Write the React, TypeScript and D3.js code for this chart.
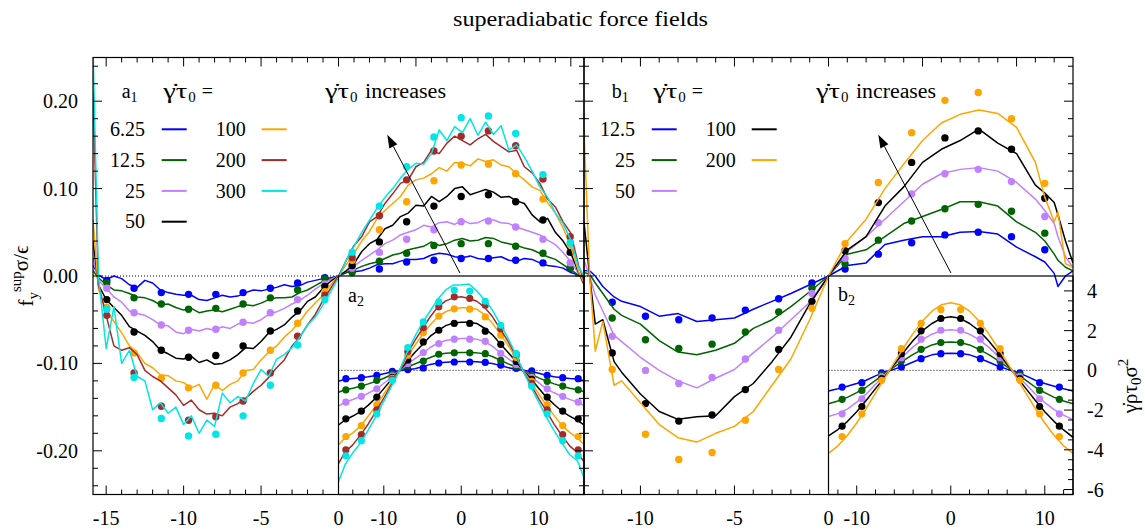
import React from 'react';
import * as d3 from 'd3';

// ---------------- data ----------------
const TITLE = 'superadiabatic force fields';
const RATES_A = ['6.25', '12.5', '25', '50', '100', '200', '300'];
const RATES_B = ['12.5', '25', '50', '100', '200'];

// panel a1 : simulation lines, sampled at the walls and every 0.5 from -15 to 15
const X_A1 = [-15.85, -15.5, ...d3.range(-30, 31).map(k => k / 2), 15.5, 15.85];
const A1_L_6_25 = [0.012, 0.001,
  -0.004, 0.000, -0.003, -0.010, -0.013, -0.005, -0.008, -0.016, -0.019, -0.021, -0.022, -0.022, -0.027, -0.028, -0.025, -0.022,
  -0.024, -0.023, -0.019, -0.016, -0.017, -0.015, -0.013, -0.010, -0.012, -0.011, -0.007, -0.005, -0.003, -0.002, 0.000,
  0.004, 0.005, 0.006, 0.009, 0.013, 0.014, 0.014, 0.017, 0.019, 0.019, 0.020, 0.024, 0.026, 0.025, 0.022, 0.021, 0.023,
  0.020, 0.019, 0.021, 0.022, 0.018, 0.017, 0.020, 0.019, 0.015, 0.012, 0.011, 0.009, 0.004,
  0.001, 0.000];
const A1_L_12_5 = [0.006, -0.002,
  -0.010, -0.016, -0.017, -0.020, -0.024, -0.025, -0.028, -0.033, -0.032, -0.036, -0.039, -0.037, -0.042, -0.040, -0.039, -0.041,
  -0.038, -0.035, -0.033, -0.034, -0.031, -0.027, -0.025, -0.025, -0.024, -0.019, -0.016, -0.011, -0.006, -0.003, 0.000,
  0.004, 0.007, 0.011, 0.014, 0.016, 0.020, 0.024, 0.026, 0.030, 0.032, 0.034, 0.039, 0.035, 0.037, 0.041, 0.043, 0.040,
  0.041, 0.044, 0.043, 0.039, 0.037, 0.035, 0.032, 0.030, 0.026, 0.022, 0.019, 0.013, 0.007,
  0.001, -0.002];
const A1_L_25 = [0.020, -0.005,
  -0.014, -0.024, -0.030, -0.040, -0.043, -0.045, -0.050, -0.056, -0.057, -0.064, -0.066, -0.061, -0.063, -0.060, -0.062, -0.058,
  -0.060, -0.055, -0.053, -0.054, -0.050, -0.044, -0.041, -0.037, -0.032, -0.028, -0.022, -0.015, -0.009, -0.004, 0.000,
  0.006, 0.011, 0.018, 0.024, 0.030, 0.037, 0.041, 0.047, 0.050, 0.053, 0.058, 0.056, 0.061, 0.062, 0.059, 0.064, 0.060,
  0.061, 0.065, 0.064, 0.061, 0.060, 0.056, 0.053, 0.050, 0.047, 0.041, 0.036, 0.027, 0.016,
  0.003, -0.004];
const A1_L_50 = [0.040, -0.010,
  -0.027, -0.036, -0.045, -0.058, -0.063, -0.068, -0.075, -0.085, -0.089, -0.094, -0.095, -0.092, -0.099, -0.096, -0.101, -0.100,
  -0.096, -0.090, -0.082, -0.083, -0.075, -0.065, -0.061, -0.056, -0.047, -0.040, -0.029, -0.024, -0.014, -0.006, 0.000,
  0.006, 0.014, 0.028, 0.037, 0.042, 0.054, 0.058, 0.068, 0.072, 0.081, 0.080, 0.091, 0.085, 0.091, 0.100, 0.102, 0.093,
  0.096, 0.099, 0.096, 0.090, 0.091, 0.086, 0.083, 0.070, 0.062, 0.066, 0.050, 0.040, 0.026,
  0.004, -0.010];
const A1_L_100 = [0.065, -0.015,
  -0.040, -0.052, -0.065, -0.080, -0.088, -0.100, -0.105, -0.113, -0.114, -0.120, -0.122, -0.128, -0.124, -0.141, -0.124, -0.131,
  -0.124, -0.120, -0.108, -0.107, -0.096, -0.087, -0.080, -0.070, -0.062, -0.052, -0.040, -0.031, -0.022, -0.010, 0.000,
  0.013, 0.026, 0.040, 0.051, 0.066, 0.075, 0.083, 0.091, 0.104, 0.110, 0.112, 0.117, 0.124, 0.120, 0.130, 0.129, 0.126,
  0.134, 0.131, 0.133, 0.127, 0.125, 0.117, 0.110, 0.102, 0.098, 0.084, 0.072, 0.055, 0.034,
  0.005, -0.008];
const A1_L_200 = [0.210, -0.010,
  -0.045, -0.080, -0.085, -0.082, -0.090, -0.108, -0.115, -0.120, -0.128, -0.136, -0.148, -0.142, -0.153, -0.158, -0.157, -0.160,
  -0.150, -0.146, -0.140, -0.132, -0.125, -0.116, -0.105, -0.096, -0.080, -0.070, -0.056, -0.044, -0.028, -0.014, 0.000,
  0.018, 0.035, 0.045, 0.062, 0.068, 0.083, 0.094, 0.106, 0.110, 0.125, 0.130, 0.144, 0.140, 0.152, 0.160, 0.155, 0.150,
  0.157, 0.162, 0.154, 0.148, 0.142, 0.144, 0.125, 0.118, 0.106, 0.088, 0.079, 0.062, 0.049,
  0.012, -0.005];
const A1_L_300 = [0.260, 0.000,
  -0.083, -0.035, -0.100, -0.085, -0.115, -0.120, -0.153, -0.145, -0.157, -0.150, -0.170, -0.160, -0.180, -0.165, -0.172, -0.134,
  -0.145, -0.138, -0.143, -0.123, -0.107, -0.115, -0.095, -0.090, -0.082, -0.070, -0.056, -0.047, -0.033, -0.018, -0.002,
  0.018, 0.034, 0.050, 0.064, 0.078, 0.090, 0.100, 0.112, 0.122, 0.129, 0.128, 0.140, 0.167, 0.155, 0.171, 0.164, 0.180,
  0.161, 0.176, 0.162, 0.172, 0.144, 0.150, 0.136, 0.120, 0.102, 0.090, 0.072, 0.060, 0.041,
  0.010, 0.000];

// panel a1 : theory points
const X_A1_DOTS = [-14.96, -13.2, -11.44, -9.68, -7.92, -6.16, -4.4, -2.64, -0.88, 0.88, 2.64, 4.4, 6.16, 7.92, 9.68, 11.44, 13.2, 14.96];
const A1_D_6_25 = [-0.005, -0.014, -0.019, -0.021, -0.021, -0.019, -0.014, -0.008, -0.002, 0.006, 0.008, 0.016, 0.018, 0.020, 0.020, 0.018, 0.015, 0.009];
const A1_D_12_5 = [-0.008, -0.025, -0.032, -0.038, -0.037, -0.032, -0.025, -0.016, -0.003, 0.004, 0.017, 0.026, 0.035, 0.037, 0.037, 0.034, 0.026, 0.010];
const A1_D_25 = [-0.014, -0.042, -0.056, -0.062, -0.061, -0.053, -0.042, -0.027, -0.009, 0.009, 0.027, 0.042, 0.053, 0.062, 0.063, 0.056, 0.042, 0.015];
const A1_D_50 = [-0.027, -0.064, -0.085, -0.093, -0.091, -0.080, -0.063, -0.040, -0.012, 0.012, 0.039, 0.062, 0.080, 0.091, 0.093, 0.085, 0.064, 0.027];
const A1_D_100 = [-0.036, -0.088, -0.117, -0.128, -0.125, -0.111, -0.085, -0.054, -0.018, 0.018, 0.053, 0.085, 0.109, 0.127, 0.128, 0.117, 0.088, 0.036];
const A1_D_200 = [-0.045, -0.111, -0.149, -0.165, -0.161, -0.143, -0.111, -0.069, -0.022, 0.021, 0.069, 0.110, 0.143, 0.160, 0.166, 0.149, 0.111, 0.045];
const A1_D_300 = [-0.038, -0.116, -0.163, -0.183, -0.181, -0.160, -0.125, -0.079, -0.027, 0.027, 0.080, 0.125, 0.159, 0.181, 0.183, 0.163, 0.116, 0.038];

// panel a2 (inset) : lines
const X_A2 = [-15.85, -15, -14, -13, -12, -11, -10, -9, -8, -7, -6, -5, -4, -3, -2, -1, 0,
  1, 2, 3, 4, 5, 6, 7, 8, 9, 10, 11, 12, 13, 14, 15, 15.85];
const A2_L_6_25 = [-0.55, -0.45, -0.41, -0.37, -0.32, -0.26, -0.17, -0.08, -0.02, 0.03, 0.08, 0.18, 0.30, 0.37, 0.41, 0.43, 0.44,
  0.44, 0.43, 0.40, 0.34, 0.25, 0.14, 0.06, 0.0, -0.06, -0.15, -0.25, -0.32, -0.37, -0.41, -0.44, -0.52];
const A2_L_12_5 = [-1.10, -0.98, -0.90, -0.80, -0.68, -0.55, -0.40, -0.22, -0.02, 0.17, 0.32, 0.48, 0.65, 0.80, 0.86, 0.89, 0.90,
  0.90, 0.88, 0.83, 0.70, 0.52, 0.34, 0.18, 0.0, -0.20, -0.38, -0.54, -0.68, -0.80, -0.90, -0.98, -1.08];
const A2_L_25 = [-1.80, -1.60, -1.47, -1.32, -1.15, -0.95, -0.65, -0.35, -0.03, 0.30, 0.58, 0.85, 1.15, 1.38, 1.50, 1.57, 1.60,
  1.60, 1.56, 1.46, 1.22, 0.90, 0.60, 0.32, 0.0, -0.32, -0.62, -0.93, -1.13, -1.31, -1.46, -1.60, -1.78];
const A2_L_50 = [-2.75, -2.50, -2.30, -2.08, -1.75, -1.38, -0.92, -0.45, -0.03, 0.45, 0.90, 1.30, 1.72, 2.00, 2.25, 2.38, 2.42,
  2.42, 2.36, 2.12, 1.80, 1.35, 0.92, 0.48, 0.0, -0.42, -0.90, -1.35, -1.72, -2.06, -2.30, -2.52, -2.75];
const A2_L_100 = [-3.75, -3.40, -3.15, -2.80, -2.30, -1.78, -1.20, -0.60, -0.03, 0.65, 1.25, 1.80, 2.30, 2.70, 2.95, 3.10, 3.15,
  3.15, 3.08, 2.80, 2.38, 1.85, 1.28, 0.68, 0.0, -0.58, -1.18, -1.76, -2.28, -2.78, -3.12, -3.40, -3.72];
const A2_L_200 = [-4.70, -4.10, -3.75, -3.25, -2.70, -2.05, -1.40, -0.70, -0.03, 0.80, 1.50, 2.10, 2.70, 3.20, 3.50, 3.65, 3.70,
  3.62, 3.48, 3.18, 2.72, 2.10, 1.48, 0.78, -0.05, -0.72, -1.42, -2.05, -2.72, -3.28, -3.80, -4.15, -4.60];
const A2_L_300 = [-5.60, -4.75, -4.15, -3.65, -3.00, -2.30, -1.55, -0.80, -0.03, 0.90, 1.70, 2.40, 3.00, 3.60, 4.05, 4.30, 4.30,
  4.35, 4.00, 3.55, 3.05, 2.35, 1.65, 0.85, -0.05, -0.85, -1.60, -2.35, -3.05, -3.65, -4.25, -4.55, -5.40];

// panel a2 : theory points
const X_A2_DOTS = [-14.9, -12.9, -10.9, -8.9, -6.9, -4.9, -2.9, -0.9, 1.1, 3.1, 5.1, 7.1, 9.1, 11.1, 13.1, 15.1];
const A2_D_6_25 = [-0.42, -0.37, -0.25, -0.05, 0.04, 0.12, 0.37, 0.42, 0.42, 0.40, 0.26, 0.10, -0.02, -0.25, -0.37, -0.42];
const A2_D_12_5 = [-0.98, -0.79, -0.50, -0.18, 0.25, 0.47, 0.81, 0.88, 0.88, 0.84, 0.50, 0.20, -0.25, -0.55, -0.79, -0.98];
const A2_D_25 = [-1.60, -1.31, -0.93, -0.28, 0.35, 0.90, 1.35, 1.57, 1.57, 1.46, 0.85, 0.30, -0.35, -0.93, -1.31, -1.60];
const A2_D_50 = [-2.44, -2.05, -1.35, -0.35, 0.52, 1.43, 2.02, 2.36, 2.36, 1.97, 1.31, 0.45, -0.45, -1.35, -2.05, -2.44];
const A2_D_100 = [-3.33, -2.78, -1.73, -0.40, 0.76, 1.89, 2.73, 3.10, 3.08, 2.69, 1.77, 0.65, -0.55, -1.73, -2.78, -3.33];
const A2_D_200 = [-4.00, -3.23, -1.99, -0.45, 0.95, 2.15, 3.20, 3.70, 3.62, 3.28, 2.10, 0.80, -0.65, -1.99, -3.23, -4.00];
const A2_D_300 = [-4.30, -3.54, -2.19, -0.50, 1.15, 2.44, 3.45, 4.04, 3.99, 3.48, 2.27, 0.84, -0.80, -2.19, -3.54, -4.30];

// panel b1 : simulation lines
const X_B1 = [-13, -12.7, -12.4, -12, -11.4, -11, -10, -9, -8, -7, -6, -5, -4, -3, -2, -1, 0,
  1, 2, 3, 4, 5, 6, 7, 8, 9, 10, 11, 11.5, 12, 12.2, 12.6, 13];
const B1_L_12_5 = [0.006, 0.006, 0.0, -0.012, -0.024, -0.029, -0.035, -0.046, -0.043, -0.052, -0.050, -0.048, -0.038, -0.029, -0.020, -0.010, 0.0,
  0.012, 0.015, 0.036, 0.041, 0.045, 0.045, 0.050, 0.051, 0.048, 0.033, 0.022, 0.016, 0.003, -0.012, 0.0, 0.006];
const B1_L_25 = [0.004, 0.002, -0.008, -0.020, -0.038, -0.045, -0.055, -0.074, -0.087, -0.090, -0.085, -0.077, -0.060, -0.050, -0.035, -0.018, 0.0,
  0.025, 0.030, 0.045, 0.060, 0.068, 0.076, 0.085, 0.085, 0.080, 0.062, 0.050, 0.040, 0.025, 0.018, 0.010, 0.006];
const B1_L_50 = [0.018, 0.0, -0.022, -0.040, -0.068, -0.075, -0.093, -0.108, -0.120, -0.128, -0.117, -0.107, -0.088, -0.070, -0.050, -0.030, 0.0,
  0.028, 0.045, 0.065, 0.085, 0.105, 0.117, 0.122, 0.124, 0.120, 0.107, 0.088, 0.075, 0.060, 0.045, 0.022, 0.010];
const B1_L_100 = [0.062, 0.0, -0.055, -0.050, -0.098, -0.110, -0.135, -0.155, -0.164, -0.161, -0.160, -0.138, -0.123, -0.098, -0.070, -0.032, 0.0,
  0.030, 0.045, 0.080, 0.102, 0.130, 0.145, 0.155, 0.168, 0.152, 0.140, 0.104, 0.095, 0.084, 0.070, 0.040, 0.015];
const B1_L_200 = [0.167, 0.0, -0.086, -0.052, -0.125, -0.120, -0.145, -0.170, -0.185, -0.190, -0.180, -0.172, -0.155, -0.125, -0.095, -0.050, 0.0,
  0.040, 0.065, 0.100, 0.128, 0.155, 0.175, 0.185, 0.190, 0.186, 0.170, 0.130, 0.090, 0.062, 0.073, 0.014, 0.010];

// panel b1 : theory points
const X_B1_DOTS = [-11.5, -9.73, -7.96, -6.19, -4.42, -2.65, -0.88, 0.88, 2.65, 4.42, 6.19, 7.96, 9.73, 11.5];
const B1_D_12_5 = [-0.030, -0.046, -0.050, -0.048, -0.039, -0.026, -0.008, 0.008, 0.025, 0.038, 0.047, 0.050, 0.045, 0.030];
const B1_D_25 = [-0.048, -0.073, -0.083, -0.078, -0.064, -0.041, -0.014, 0.014, 0.041, 0.063, 0.077, 0.082, 0.074, 0.049];
const B1_D_50 = [-0.069, -0.108, -0.123, -0.116, -0.095, -0.062, -0.020, 0.020, 0.061, 0.094, 0.117, 0.122, 0.108, 0.068];
const B1_D_100 = [-0.088, -0.146, -0.166, -0.159, -0.130, -0.084, -0.029, 0.029, 0.084, 0.130, 0.158, 0.166, 0.145, 0.089];
const B1_D_200 = [-0.107, -0.181, -0.210, -0.202, -0.165, -0.107, -0.037, 0.037, 0.107, 0.164, 0.201, 0.210, 0.180, 0.106];

// panel b2 (inset) : lines
const X_B2 = [-13, -12, -11, -10, -9, -8, -7, -6, -5, -4, -3, -2, -1, 0, 1, 2, 3, 4, 5, 6, 7, 8, 9, 10, 11, 12, 13];
const B2_L_12_5 = [-1.04, -0.93, -0.80, -0.66, -0.50, -0.28, -0.08, 0.06, 0.22, 0.42, 0.62, 0.78, 0.85, 0.86, 0.85, 0.78, 0.62, 0.42, 0.22, 0.06, -0.08, -0.28, -0.50, -0.66, -0.80, -0.93, -1.04];
const B2_L_25 = [-1.68, -1.54, -1.36, -1.12, -0.85, -0.50, -0.15, 0.18, 0.50, 0.80, 1.06, 1.28, 1.40, 1.43, 1.40, 1.28, 1.06, 0.80, 0.50, 0.18, -0.15, -0.50, -0.85, -1.12, -1.36, -1.54, -1.68];
const B2_L_50 = [-2.32, -2.18, -1.95, -1.60, -1.20, -0.70, -0.22, 0.26, 0.74, 1.18, 1.55, 1.82, 2.00, 2.04, 2.00, 1.82, 1.55, 1.18, 0.74, 0.26, -0.22, -0.70, -1.20, -1.62, -1.98, -2.25, -2.49];
const B2_L_100 = [-3.30, -2.98, -2.58, -2.08, -1.52, -0.92, -0.32, 0.30, 0.92, 1.50, 2.00, 2.36, 2.62, 2.70, 2.62, 2.36, 2.00, 1.50, 0.92, 0.30, -0.32, -0.92, -1.52, -2.08, -2.58, -3.00, -3.37];
const B2_L_200 = [-4.18, -3.80, -3.28, -2.65, -1.92, -1.15, -0.38, 0.40, 1.15, 1.86, 2.48, 2.98, 3.30, 3.40, 3.30, 2.98, 2.48, 1.86, 1.15, 0.40, -0.38, -1.15, -1.92, -2.65, -3.28, -3.80, -4.18];

// panel b2 : theory points
const X_B2_DOTS = [-11.55, -9.45, -7.35, -5.25, -3.15, -1.05, 1.05, 3.15, 5.25, 7.35, 9.45, 11.55];
const B2_D_12_5 = [-0.84, -0.62, -0.13, 0.17, 0.59, 0.84, 0.84, 0.59, 0.17, -0.13, -0.62, -0.84];
const B2_D_25 = [-1.46, -1.01, -0.22, 0.47, 1.06, 1.40, 1.40, 1.06, 0.47, -0.22, -1.01, -1.46];
const B2_D_50 = [-2.19, -1.43, -0.32, 0.64, 1.57, 2.02, 2.02, 1.57, 0.64, -0.32, -1.43, -2.19];
const B2_D_100 = [-2.81, -1.82, -0.42, 0.84, 1.99, 2.61, 2.61, 1.99, 0.84, -0.42, -1.82, -2.81];
const B2_D_200 = [-3.33, -2.19, -0.50, 1.09, 2.36, 3.06, 3.06, 2.36, 1.09, -0.50, -2.19, -3.33];

// tick labels
const A1_X_LABELS = [-15, -10, -5, 0];
const A2_X_LABELS = [-10, 0, 10];
const B1_X_LABELS = [-10, -5, 0];
const B2_X_LABELS = [-10, 0, 10];
const Y_MAIN_LABELS = [0.2, 0.1, 0, -0.1, -0.2];
const Y_INSET_LABELS = [4, 2, 0, -2, -4, -6];

// annotation arrow (data coordinates: tail -> head)
const ARROW_A = [[7.84, 0.0035], [3.15, 0.1615]];
const ARROW_B = [[6.51, 0.0035], [2.65, 0.1615]];

// ---------------- styling ----------------
const COLORS_A = ['#0000ff', '#006400', '#c080ff', '#000000', '#ffa500', '#a52a2a', '#00e5e5'];
const COLORS_B = ['#0000ff', '#006400', '#c080ff', '#000000', '#ffa500'];
const FONT = "'Liberation Serif', 'DejaVu Serif', 'Times New Roman', serif";

const A1_LINES = [A1_L_6_25, A1_L_12_5, A1_L_25, A1_L_50, A1_L_100, A1_L_200, A1_L_300];
const A1_DOTS = [A1_D_6_25, A1_D_12_5, A1_D_25, A1_D_50, A1_D_100, A1_D_200, A1_D_300];
const A2_LINES = [A2_L_6_25, A2_L_12_5, A2_L_25, A2_L_50, A2_L_100, A2_L_200, A2_L_300];
const A2_DOTS = [A2_D_6_25, A2_D_12_5, A2_D_25, A2_D_50, A2_D_100, A2_D_200, A2_D_300];
const B1_LINES = [B1_L_12_5, B1_L_25, B1_L_50, B1_L_100, B1_L_200];
const B1_DOTS = [B1_D_12_5, B1_D_25, B1_D_50, B1_D_100, B1_D_200];
const B2_LINES = [B2_L_12_5, B2_L_25, B2_L_50, B2_L_100, B2_L_200];
const B2_DOTS = [B2_D_12_5, B2_D_25, B2_D_50, B2_D_100, B2_D_200];

type Scale = d3.ScaleLinear<number, number>;

function Series({ xs, ys, xv, lines, dxv, dots, colors, clip, r = 3.7 }:
  { xs: Scale; ys: Scale; xv: number[]; lines: number[][]; dxv: number[]; dots: number[][]; colors: string[]; clip: string; r?: number }) {
  const gen = d3.line<[number, number]>().x(d => xs(d[0])).y(d => ys(d[1]));
  return (
    <g clipPath={`url(#${clip})`}>
      {lines.map((vals, i) => (
        <g key={i}>
          <path d={gen(xv.map((x, k) => [x, vals[k]] as [number, number])) || ''} fill="none" stroke={colors[i]} strokeWidth={1.5} strokeLinejoin="round" />
          {dots[i].map((v, k) => (
            <circle key={k} cx={xs(dxv[k])} cy={ys(v)} r={r} fill={colors[i]} />
          ))}
        </g>
      ))}
    </g>
  );
}

function HTicks({ scale, y, values, dir, isMajor }: { scale: Scale; y: number; values: number[]; dir: number; isMajor: (v: number) => boolean }) {
  return (
    <g stroke="#000" strokeWidth={1}>
      {values.map((v, i) => {
        const p = scale(v);
        const len = isMajor(v) ? 9 : 5;
        return <line key={i} x1={p} x2={p} y1={y} y2={y + dir * len} />;
      })}
    </g>
  );
}

function VTicks({ scale, x, values, dir, isMajor }: { scale: Scale; x: number; values: number[]; dir: number; isMajor: (v: number) => boolean }) {
  return (
    <g stroke="#000" strokeWidth={1}>
      {values.map((v, i) => {
        const p = scale(v);
        const len = isMajor(v) ? 9 : 5;
        return <line key={i} x1={x} x2={x + dir * len} y1={p} y2={p} />;
      })}
    </g>
  );
}

function Arrow({ x1, y1, x2, y2 }: { x1: number; y1: number; x2: number; y2: number }) {
  const ang = Math.atan2(y2 - y1, x2 - x1);
  const L = 13, Wd = 4.5;
  const bx = x2 - L * Math.cos(ang), by = y2 - L * Math.sin(ang);
  const px = -Math.sin(ang) * Wd, py = Math.cos(ang) * Wd;
  return (
    <g>
      <line x1={x1} y1={y1} x2={bx} y2={by} stroke="#000" strokeWidth={1} />
      <path d={`M${x2},${y2}L${bx + px},${by + py}L${bx - px},${by - py}Z`} fill="#000" />
    </g>
  );
}

const GDOT = 'γ\u0307';

function GammaTau({ x, y, after, afterDx, afterLen }: { x: number; y: number; after: string; afterDx: number; afterLen?: number }) {
  return (
    <text x={x} y={y} fontSize={20}>
      <tspan fontSize={22} textLength={24} lengthAdjust="spacingAndGlyphs">{GDOT + 'τ'}</tspan>
      <tspan fontSize={15} dy={4} x={x + 25}>0</tspan>
      <tspan dy={-4} x={x + afterDx} textLength={afterLen} lengthAdjust="spacingAndGlyphs">{after}</tspan>
    </text>
  );
}

export default function App() {
  const top = 57.5, bot = 494.5, mid = 276;
  const xA1 = d3.scaleLinear().domain([-15.85, 15.85]).range([93, 584]);
  const xB1 = d3.scaleLinear().domain([-13, 13]).range([584, 1073]);
  const yM = d3.scaleLinear().domain([-0.25, 0.25]).range([bot, top]);
  const xA2 = d3.scaleLinear().domain([-15.85, 15.85]).range([338.5, 584]);
  const xB2 = d3.scaleLinear().domain([-13, 13]).range([828.5, 1073]);
  const yI = d3.scaleLinear().domain([-6.25, 4.75]).range([bot, mid]);

  const yTicks = d3.range(-24, 25, 2).map(v => v / 100);
  const yMajor = (v: number) => Math.abs(v * 10 - Math.round(v * 10)) < 1e-6;
  const int5 = (v: number) => Math.abs(v % 5) < 1e-6;
  const int10 = (v: number) => Math.abs(v % 10) < 1e-6;
  const insetY = d3.range(-12, 10, 1).map(v => v / 2);
  const insetYMajor = (v: number) => Math.abs(v % 2) < 1e-6;

  const legendA = RATES_A.map((r, i) => ({ r, c: COLORS_A[i], col: i < 4 ? 0 : 1, row: i < 4 ? i : i - 4 }));
  const legendB = RATES_B.map((r, i) => ({ r, c: COLORS_B[i], col: i < 3 ? 0 : 1, row: i < 3 ? i : i - 3 }));

  return (
    <svg width={1145} height={529} style={{ position: 'absolute', left: 0, top: 0, background: '#fff', fontFamily: FONT }}>
      <defs>
        <clipPath id="cA1"><rect x={93} y={top} width={491} height={bot - top} /></clipPath>
        <clipPath id="cB1"><rect x={584} y={top} width={489} height={bot - top} /></clipPath>
        <clipPath id="cA2"><rect x={338.5} y={mid} width={245.5} height={bot - mid} /></clipPath>
        <clipPath id="cB2"><rect x={828.5} y={mid} width={244.5} height={bot - mid} /></clipPath>
      </defs>
      <rect x={0} y={0} width={1145} height={529} fill="#fff" />

      {/* title */}
      <text x={580.5} y={26} fontSize={22} textAnchor="middle" textLength={255} lengthAdjust="spacingAndGlyphs">{TITLE}</text>

      {/* insets */}
      <rect x={338.5} y={mid} width={245.5} height={bot - mid} fill="#fff" />
      <rect x={828.5} y={mid} width={244.5} height={bot - mid} fill="#fff" />
      <line x1={338.5} x2={584} y1={yI(0)} y2={yI(0)} stroke="#000" strokeWidth={1} strokeDasharray="1,2" />
      <line x1={828.5} x2={1073} y1={yI(0)} y2={yI(0)} stroke="#000" strokeWidth={1} strokeDasharray="1,2" />
      <Series xs={xA2} ys={yI} xv={X_A2} lines={A2_LINES} dxv={X_A2_DOTS} dots={A2_DOTS} colors={COLORS_A} clip="cA2" r={3.6} />
      <Series xs={xB2} ys={yI} xv={X_B2} lines={B2_LINES} dxv={X_B2_DOTS} dots={B2_DOTS} colors={COLORS_B} clip="cB2" r={3.6} />

      {/* main zero lines */}
      <line x1={93} x2={338.5} y1={yM(0)} y2={yM(0)} stroke="#000" strokeWidth={1} strokeDasharray="1,2" />
      <line x1={584} x2={828.5} y1={yM(0)} y2={yM(0)} stroke="#000" strokeWidth={1} strokeDasharray="1,2" />

      {/* main series */}
      <Series xs={xA1} ys={yM} xv={X_A1} lines={A1_LINES} dxv={X_A1_DOTS} dots={A1_DOTS} colors={COLORS_A} clip="cA1" />
      <Series xs={xB1} ys={yM} xv={X_B1} lines={B1_LINES} dxv={X_B1_DOTS} dots={B1_DOTS} colors={COLORS_B} clip="cB1" />

      {/* frames */}
      <g fill="none" stroke="#000" strokeWidth={1.2}>
        <rect x={93} y={top} width={491} height={bot - top} />
        <rect x={584} y={top} width={489} height={bot - top} />
        <rect x={338.5} y={mid} width={245.5} height={bot - mid} />
        <rect x={828.5} y={mid} width={244.5} height={bot - mid} />
      </g>

      {/* ticks */}
      <HTicks scale={xA1} y={top} values={d3.range(-15, 15.5, 1)} dir={1} isMajor={int5} />
      <HTicks scale={xA1} y={bot} values={d3.range(-15, 0.5, 1)} dir={-1} isMajor={int5} />
      <VTicks scale={yM} x={93} values={yTicks} dir={1} isMajor={yMajor} />
      <VTicks scale={yM} x={584} values={yTicks} dir={-1} isMajor={yMajor} />
      <HTicks scale={xB1} y={top} values={d3.range(-12, 12.5, 1)} dir={1} isMajor={int5} />
      <HTicks scale={xB1} y={bot} values={d3.range(-12, 0.5, 1)} dir={-1} isMajor={int5} />
      <VTicks scale={yM} x={584} values={yTicks} dir={1} isMajor={yMajor} />
      <VTicks scale={yM} x={1073} values={yTicks.filter(v => v > 0.001)} dir={-1} isMajor={yMajor} />
      <HTicks scale={xA2} y={bot} values={d3.range(-14, 14.5, 2)} dir={-1} isMajor={int10} />
      <HTicks scale={xB2} y={bot} values={d3.range(-12, 12.5, 2)} dir={-1} isMajor={int10} />
      <VTicks scale={yI} x={1073} values={insetY} dir={-1} isMajor={insetYMajor} />

      {/* tick labels */}
      <g fontSize={20} textAnchor="middle">
        {A1_X_LABELS.map(v => <text key={'a1' + v} x={xA1(v)} y={525}>{String(v)}</text>)}
        {A2_X_LABELS.map(v => <text key={'a2' + v} x={xA2(v)} y={525}>{String(v)}</text>)}
        {B1_X_LABELS.map(v => <text key={'b1' + v} x={xB1(v)} y={525}>{String(v)}</text>)}
        {B2_X_LABELS.map(v => <text key={'b2' + v} x={xB2(v)} y={525}>{String(v)}</text>)}
      </g>
      <g fontSize={20} textAnchor="end">
        {Y_MAIN_LABELS.map(v => <text key={v} x={78} y={yM(v)} dy="0.35em">{v.toFixed(2)}</text>)}
      </g>
      <g fontSize={20} textAnchor="start">
        {Y_INSET_LABELS.map(v => <text key={v} x={1087} y={yI(v)} dy="0.35em">{String(v)}</text>)}
      </g>

      {/* axis titles */}
      <text transform="translate(33,276) rotate(-90)" fontSize={21} textAnchor="middle">
        f<tspan fontSize={15} dy={5}>y</tspan><tspan fontSize={15} dy={-17}>sup</tspan><tspan dy={7}>σ/ϵ</tspan>
      </text>
      <text transform="translate(1137,386) rotate(-90)" fontSize={21} textAnchor="middle">
        {GDOT}ρτ<tspan fontSize={15} dy={4}>0</tspan><tspan dy={-4}>σ</tspan><tspan fontSize={15} dy={-9}>2</tspan>
      </text>

      {/* legends a1 */}
      <text x={121.7} y={98} fontSize={20}>a<tspan fontSize={14} dy={4}>1</tspan></text>
      <GammaTau x={163.3} y={98} after="=" afterDx={38.4} />
      {legendA.map((d, i) => (
        <g key={i}>
          <text x={145 + d.col * 100.7} y={136 + d.row * 30.8} fontSize={20} textAnchor="end">{d.r}</text>
          <line x1={161.7 + d.col * 100} x2={186.7 + d.col * 100} y1={129.3 + d.row * 30.8} y2={129.3 + d.row * 30.8} stroke={d.c} strokeWidth={2} />
        </g>
      ))}
      <GammaTau x={325} y={98} after="increases" afterDx={40} afterLen={81} />

      {/* legends b1 */}
      <text x={611.7} y={98} fontSize={20}>b<tspan fontSize={14} dy={4}>1</tspan></text>
      <GammaTau x={653.3} y={98} after="=" afterDx={38.4} />
      {legendB.map((d, i) => (
        <g key={i}>
          <text x={635 + d.col * 100.7} y={136 + d.row * 30.8} fontSize={20} textAnchor="end">{d.r}</text>
          <line x1={651.7 + d.col * 100} x2={676.7 + d.col * 100} y1={129.3 + d.row * 30.8} y2={129.3 + d.row * 30.8} stroke={d.c} strokeWidth={2} />
        </g>
      ))}
      <GammaTau x={816} y={98} after="increases" afterDx={40} afterLen={80} />

      {/* inset labels */}
      <text x={348} y={302} fontSize={20}>a<tspan fontSize={14} dy={4}>2</tspan></text>
      <text x={838} y={301} fontSize={20}>b<tspan fontSize={14} dy={4}>2</tspan></text>

      {/* arrows */}
      <Arrow x1={xA1(ARROW_A[0][0])} y1={yM(ARROW_A[0][1])} x2={xA1(ARROW_A[1][0])} y2={yM(ARROW_A[1][1])} />
      <Arrow x1={xB1(ARROW_B[0][0])} y1={yM(ARROW_B[0][1])} x2={xB1(ARROW_B[1][0])} y2={yM(ARROW_B[1][1])} />
    </svg>
  );
}
